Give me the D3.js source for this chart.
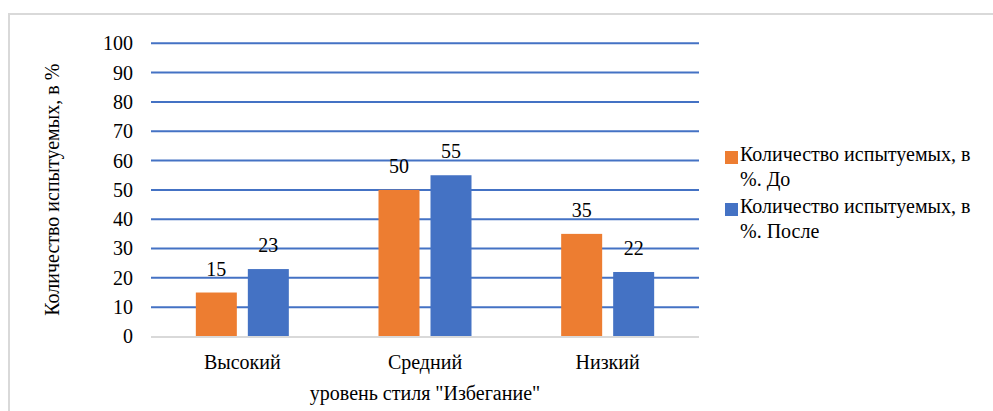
<!DOCTYPE html>
<html>
<head>
<meta charset="utf-8">
<script src="https://cdn.jsdelivr.net/npm/d3@7/dist/d3.min.js"></script>
<style>
  body { margin: 0; background: #fff; }
  #wrap { position: relative; width: 993px; height: 411px; overflow: hidden; }
  #wrap svg { position: absolute; left: 0; top: 0; }
  .lbl { position: absolute; font-size: 20px; line-height: 1; white-space: nowrap; color: #000; }
</style>
</head>
<body>
<div id="wrap"><svg id="chart" width="993" height="411"></svg></div>
<script>
var categories = ["Высокий", "Средний", "Низкий"];
var seriesNames = ["Количество испытуемых, в %. До", "Количество испытуемых, в %. После"];
var valuesBefore = [15, 50, 35];
var valuesAfter = [23, 55, 22];
var yTicks = [0, 10, 20, 30, 40, 50, 60, 70, 80, 90, 100];
var colors = ["#ED7D31", "#4472C4"];

var svg = d3.select("#chart");
var wrap = d3.select("#wrap");
var FS = 20, ASC = 0.8375 * FS;

function label(x, base, text, anchor) {
    var tx = anchor === "middle" ? "translateX(-50%)" : anchor === "end" ? "translateX(-100%)" : "none";
    return wrap.append("div").attr("class", "lbl")
        .attr("style", "font-family:'Liberation Serif'")
        .style("left", x + "px")
        .style("top", (base - ASC) + "px")
        .style("transform", tx)
        .text(text);
}

// рамка области диаграммы
svg.append("rect")
    .attr("x", 9).attr("y", 14)
    .attr("width", 1000).attr("height", 420)
    .attr("fill", "none")
    .attr("stroke", "#d9d9d9")
    .attr("stroke-width", 2);

var plotLeft = 151, plotRight = 699, plotTop = 43.3, plotBottom = 336.5;

var x = d3.scaleBand().domain(categories).range([plotLeft, plotRight]).paddingInner(0).paddingOuter(0);
var y = d3.scaleLinear().domain([0, 100]).range([plotBottom, plotTop]);
var bw = 41, gap = 11;
var x1 = d3.scaleOrdinal().domain([0, 1]).range([-(bw + gap / 2), gap / 2]);

// сетка
svg.append("g").selectAll("line")
    .data(yTicks.filter(function(d) { return d > 0; }))
    .enter().append("line")
    .attr("x1", plotLeft).attr("x2", plotRight)
    .attr("y1", function(d) { return y(d); })
    .attr("y2", function(d) { return y(d); })
    .attr("stroke", "#4472C4")
    .attr("stroke-width", 2);

// подписи оси Y
yTicks.forEach(function(d) {
    label(133, y(d) + 6.7, d, "end");
});

var series = [valuesBefore, valuesAfter];
var bars = [];
categories.forEach(function(c, i) {
    series.forEach(function(s, j) {
        bars.push({cat: c, s: j, v: s[i]});
    });
});

var cx = function(d) { return x(d.cat) + x.bandwidth() / 2 + x1(d.s); };

svg.append("g").selectAll("rect")
    .data(bars)
    .enter().append("rect")
    .attr("x", cx)
    .attr("y", function(d) { return y(d.v); })
    .attr("width", bw)
    .attr("height", function(d) { return y(0) - y(d.v); })
    .attr("fill", function(d) { return colors[d.s]; });

// ось X
svg.append("line")
    .attr("x1", plotLeft).attr("x2", plotRight)
    .attr("y1", plotBottom + 0.5).attr("y2", plotBottom + 0.5)
    .attr("stroke", "#d9d9d9")
    .attr("stroke-width", 2);

// подписи данных
bars.forEach(function(d) {
    label(cx(d) + bw / 2, y(d.v) - 17, d.v, "middle");
});

// категории
categories.forEach(function(c) {
    label(x(c) + x.bandwidth() / 2, 369, c, "middle");
});

label((plotLeft + plotRight) / 2, 400, "уровень стиля \"Избегание\"", "middle");

// заголовок оси Y, повернутый
label(58.5, (plotTop + plotBottom) / 2, "Количество испытуемых, в %", "start")
    .style("transform-origin", "0 " + ASC + "px")
    .style("transform", "rotate(-90deg) translateX(-50%)");

// легенда
seriesNames.forEach(function(name, i) {
    var gy = 151 + i * 52;
    svg.append("rect")
        .attr("x", 725).attr("y", gy)
        .attr("width", 13).attr("height", 13)
        .attr("fill", colors[i]);
    var parts = name.split(" в ");
    label(740, gy + 10, parts[0] + " в", "start");
    label(740, gy + 35, parts[1], "start");
});
</script>
</body>
</html>
